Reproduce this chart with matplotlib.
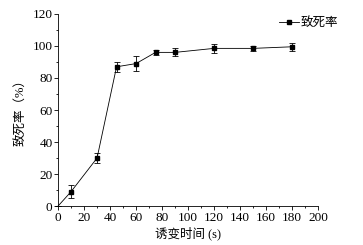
import matplotlib
matplotlib.use('Agg')
import matplotlib.pyplot as plt
from matplotlib.ticker import MultipleLocator
from matplotlib.lines import Line2D

# 数据
time_s = [0, 10, 30, 45, 60, 75, 90, 120, 150, 180]
lethality = [0, 9, 30, 87, 89, 96, 96, 98.5, 98.5, 99.5]
err = [0, 4, 3, 3, 4.5, 1.5, 2.5, 3, 1.5, 2.5]

plt.rcParams['font.family'] = ['Liberation Serif', 'Noto Sans CJK SC']
plt.rcParams['font.size'] = 9.5

fig = plt.figure(figsize=(3.63, 2.45), dpi=100)
ax = fig.add_axes([0.160, 0.159, 0.716, 0.784])

ax.errorbar(time_s, lethality, yerr=err, color='black', lw=0.6,
            marker='s', ms=3.5, markevery=slice(1, None),
            elinewidth=0.6, capsize=2, capthick=0.6, clip_on=False)

ax.set_xlim(0, 200)
ax.set_ylim(0, 120)
ax.xaxis.set_major_locator(MultipleLocator(20))
ax.xaxis.set_minor_locator(MultipleLocator(10))
ax.yaxis.set_major_locator(MultipleLocator(20))
ax.yaxis.set_minor_locator(MultipleLocator(10))
ax.tick_params(which='major', direction='out', length=3, width=0.6, pad=1)
ax.tick_params(which='minor', direction='out', length=1.5, width=0.6)

for s in ['top', 'right']:
    ax.spines[s].set_visible(False)
for s in ['left', 'bottom']:
    ax.spines[s].set_linewidth(0.6)

ax.set_xlabel('诱变时间 (s)', labelpad=2, fontsize=9)
ax.set_ylabel('致死率（%）', labelpad=4, fontsize=9)

handle = Line2D([], [], color='black', lw=0.6, marker='s', ms=3.5)
ax.legend([handle], ['致死率'], loc='upper right', bbox_to_anchor=(1.11, 1.03),
          frameon=False, handlelength=1.6, handletextpad=0.1, borderpad=0.2,
          fontsize=9)

fig.savefig('out.png', dpi=100)
